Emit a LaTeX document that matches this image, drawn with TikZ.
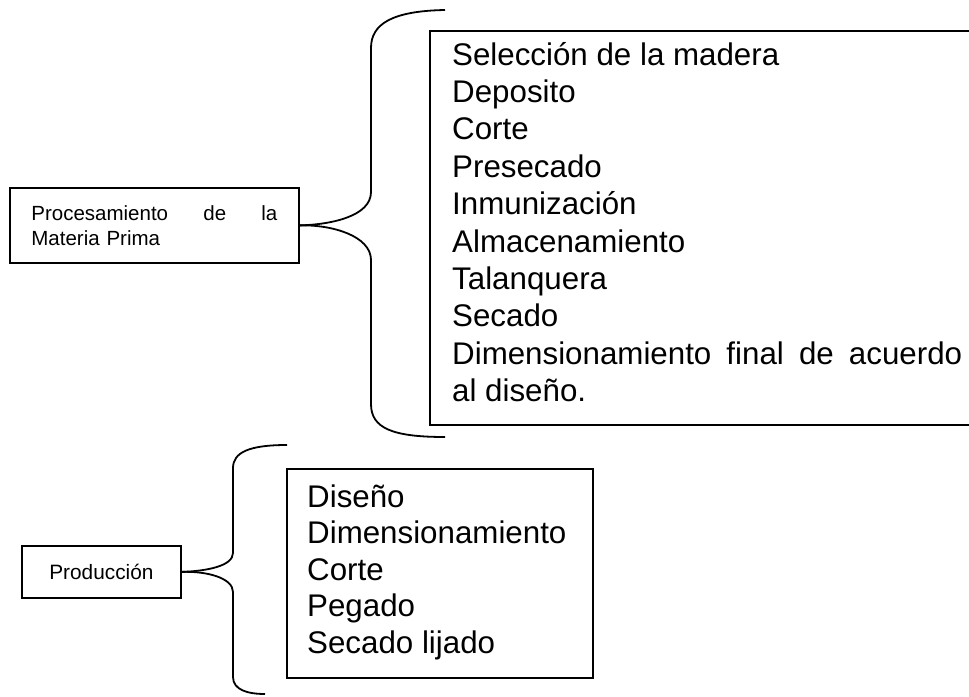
\documentclass[tikz,border=0pt]{standalone}
\usepackage{fontspec}
\setmainfont{Liberation Sans}
\begin{document}
\begin{tikzpicture}[x=1pt,y=-1pt,
  box/.style={draw, line width=1.8pt, inner sep=0pt},
  item/.style={anchor=base west, inner sep=0pt, font=\fontsize{31.3}{37}\selectfont},
  brace/.style={line width=1.8pt}]
\clip (0,0) rectangle (969,696);
% small boxes
\node[box, anchor=north west, minimum width=289pt, minimum height=75pt,
      text width=246pt, align=left, font=\fontsize{20.5}{25}\selectfont]
      (proc) at (9,187) {\makebox[246pt][l]{Procesamiento\hfill de\hfill la}\\Materia Prima};
\node[box, anchor=north west, minimum width=159pt, minimum height=52pt,
      font=\fontsize{20.8}{25}\selectfont] (prod) at (21,545) {Producción};
% list boxes
\node[box, anchor=north west, minimum width=551pt, minimum height=394pt] (lst1) at (429,30) {};
\node[box, anchor=north west, minimum width=306pt, minimum height=209pt] (lst2) at (286,468) {};
% top list
\foreach \t [count=\i] in {Selección de la madera, Deposito, Corte, Presecado,
  Inmunización, Almacenamiento, Talanquera, Secado,
  {\makebox[510pt][l]{Dimensionamiento\hfill final\hfill de\hfill acuerdo}}, al diseño.}
  \node[item] (a\i) at (452,{65+37.4*(\i-1)}) {\t};
% bottom list
\foreach \t [count=\i] in {Diseño, Dimensionamiento, Corte, Pegado, Secado lijado}
  \node[item] (b\i) at (307,{507+36.5*(\i-1)}) {\t};
% braces
\coordinate (b1t) at (445,10);
\coordinate (b1b) at (445,437);
\draw[brace] (b1t) .. controls (392,11) and (371,24) .. (371,48) -- (371,192)
  .. controls (371,216) and (332,224.5) .. (proc.east);
\draw[brace] (proc.east) .. controls (332,224.5) and (371,236) .. (371,260) -- (371,404)
  .. controls (371,428) and (392,437) .. (b1b);
\coordinate (b2t) at (287,445);
\coordinate (b2b) at (265,694);
\draw[brace] (b2t) .. controls (250,445) and (233,452) .. (233,468) -- (233,553)
  .. controls (233,566) and (207,571) .. (prod.east);
\draw[brace] (prod.east) .. controls (207,571) and (233,578) .. (233,592) -- (233,677)
  .. controls (233,690) and (248,694) .. (b2b);
\end{tikzpicture}
\end{document}
